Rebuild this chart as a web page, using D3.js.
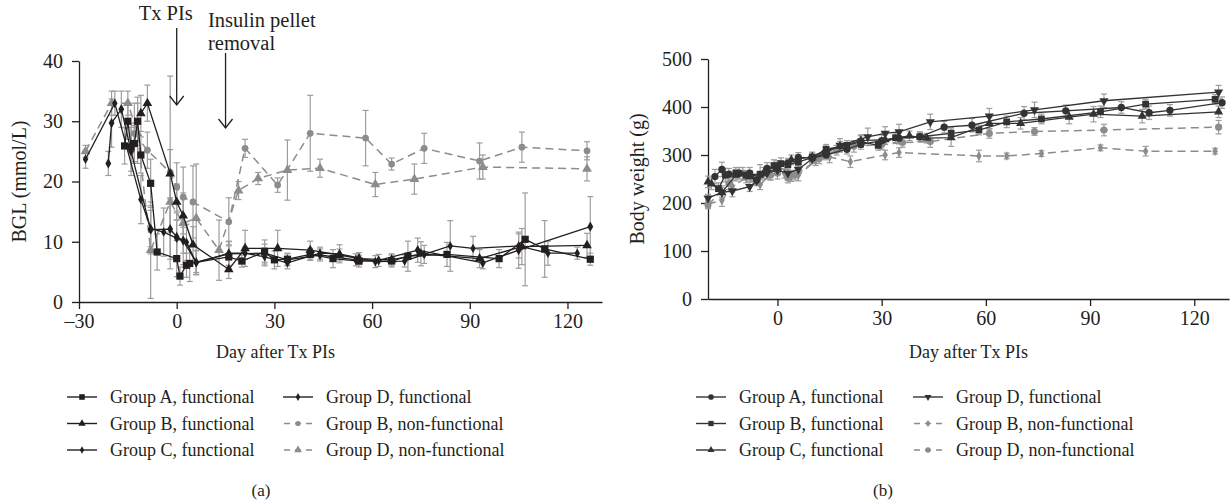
<!DOCTYPE html>
<html><head><meta charset="utf-8">
<script src="https://cdn.jsdelivr.net/npm/d3@7/dist/d3.min.js"></script>
<style>
body{margin:0;background:#fff}
svg{display:block}
text{font-family:"Liberation Serif","DejaVu Serif",serif;fill:#231f20}
</style>
</head><body>
<svg id="c" width="1230" height="502"></svg>
<script>
// ---------- Panel (a): BGL ----------
const aXTicks = [-30, 0, 30, 60, 90, 120];
const aYTicks = [0, 10, 20, 30, 40];

const aA_fn_days = [-16,-15,-14,-13,-12,-11,-8,-6,0,1,3,4,16,20,27,30,34,41,48,56,66,71,83,99,107,113,127];
const aA_fn_vals = [25.9,30,25.7,26.3,30,24.4,19.7,8.3,7.2,4.3,6.1,6.4,7.5,6.8,8.3,7.0,7.1,7.9,7.2,6.8,6.8,7.6,7.9,7.2,10.4,8.8,7.1];
const aA_fn_errs = [3,3,4,3,4,3,4,3,3,1.5,2,3,2,1,2,1.5,1,1,1.5,1,1,2.5,2,1.5,7.7,4.7,1];

const aB_fn_days = [-11,-9,-2,0,2,5,16,21,31,41,50,56,66,75,93,106,126];
const aB_fn_vals = [31.3,33,21.3,16.6,14.3,9.5,5.4,8.9,8.9,8.6,7.8,7.2,7.0,8.0,7.2,9.2,9.4];
const aB_fn_errs = [3,3,4,3,3,3,1.5,3,3,1.5,1,1,1,2,1.5,3,2];

const aC_fn_days = [-28,-19,-11,-8,-4,0,3,6,16,21,27,34,44,50,61,70,76,84,91,105,114,123];
const aC_fn_vals = [23.7,33,17,12.2,11.6,10.6,9.9,6.5,8.1,8.1,7.5,6.5,8.1,8.0,6.7,6.8,7.9,9.3,8.9,9.3,8.1,8.1];
const aC_fn_errs = [1.5,2,4,3,4,3,3,2,2,1,1.5,1,1,1.5,1,1,1.5,4.2,2,2,2,1];

const aD_fn_days = [-21,-20,-17,-14,-8,-2,0,2,6,16,27,34,44,55,62,74,94,105,127];
const aD_fn_vals = [23,29.7,32,25,12,12.1,10.8,10.2,6.6,8,8.1,7,7.8,7.0,6.9,8.6,6.5,8.6,12.5];
const aD_fn_errs = [2,4,3,4,4,5,4,4,2,2,1.5,1,1,1,1,2,1,3,5];

const aB_nf_days = [-13,-9,-2,0,2,5,16,21,31,41,58,66,76,93,106,126];
const aB_nf_vals = [28,25.2,21.5,19.1,17.4,16.6,13.3,25.5,19.4,28,27.2,22.9,25.5,23.4,25.7,25.1];
const aB_nf_errs = [5,3,16,4,5,6,4,1.5,1.2,6.3,4.6,1,2.5,3,2.5,1.5];

const aD_nf_days = [-28,-20,-15,-12,-8,-2,2,6,13,19,25,34,44,61,73,94,126];
const aD_nf_vals = [25,33,33,28,8.6,16.6,13.1,13.9,8.6,18.5,20.5,21.9,22.2,19.5,20.4,22.4,22.1];
const aD_nf_errs = [1,2,2,5,8,5,5,9,5,1.5,1,5,1.5,2,2.5,2,2];

const aLabels = ["Group A, functional","Group B, functional","Group C, functional","Group D, functional","Group B, non-functional","Group D, non-functional"];
const annotDays = [0, 15];

// ---------- Panel (b): Body weight ----------
const bXTicks = [0, 30, 60, 90, 120];
const bYTicks = [0, 100, 200, 300, 400, 500];

const bA_fn_days = [-18,-16,-14,-11,-8,-6,-3,0,3,6,10,14,20,24,30,35,41,48,56,71,83,99,107,113,128];
const bA_fn_vals = [255,270,260,262,262,248,272,276,283,295,294,300,312,322,330,335,338,358,362,387,392,399,388,393,409];
const bA_fn_errs = [15,15,12,12,12,10,12,12,10,10,10,10,10,10,12,12,10,12,14,14,12,12,14,12,12];

const bB_fn_days = [-17,-15,-12,-9,-5,-1,1,3,6,10,14,20,24,29,34,41,50,58,66,76,93,106,126];
const bB_fn_vals = [230,258,262,258,260,278,282,280,285,295,312,320,328,320,336,338,345,352,369,375,390,406,416];
const bB_fn_errs = [12,14,12,10,20,12,12,10,10,8,10,10,12,10,10,10,12,10,12,10,12,10,10];

const bC_fn_days = [-20,-19,-16,-12,-8,-4,0,4,10,14,18,24,31,38,43,50,61,70,84,91,105,127];
const bC_fn_vals = [244,240,222,258,255,262,272,290,296,308,318,330,332,340,335,336,366,366,379,385,381,390];
const bC_fn_errs = [12,12,14,12,12,12,12,10,10,10,10,12,10,10,10,18,12,12,14,16,14,12];

const bD_fn_days = [-20,-16,-13,-8,-6,-3,0,3,6,10,14,18,26,31,35,44,61,74,94,127];
const bD_fn_vals = [210,222,225,234,246,262,268,262,270,292,305,320,338,345,348,369,381,394,413,431];
const bD_fn_errs = [8,10,12,10,10,12,10,12,10,10,12,14,18,14,16,16,16,16,14,14];

const bB_nf_days = [-20,-16,-13,-9,-5,-2,2,4,6,11,15,21,31,35,58,66,76,93,106,126];
const bB_nf_vals = [198,205,235,252,238,260,262,255,258,288,296,286,300,305,298,298,303,315,308,308];
const bB_nf_errs = [8,12,12,10,10,12,10,10,12,10,12,12,10,10,12,6,6,6,10,6];

const bD_nf_days = [-20,-14,-10,-6,-2,0,3,5,12,17,22,30,36,44,61,74,94,127];
const bD_nf_vals = [196,240,262,250,258,262,252,258,292,310,318,322,326,328,345,349,352,358];
const bD_nf_errs = [8,12,12,10,10,12,10,10,10,10,12,10,10,12,10,8,12,14];

const bLabels = ["Group A, functional","Group B, functional","Group C, functional","Group D, functional","Group B, non-functional","Group D, non-functional"];

// ---------- drawing ----------
const svg = d3.select("#c");
const BLACK = "#231f20", DARK = "#333333", GRAY = "#8c8c8c", ERR = "#9d9d9d";
const fmt = d => d < 0 ? "\u2013" + Math.abs(d) : String(d);

function zip(days, vals, errs){ return days.map((d,i)=>({d, v: vals[i], e: errs[i]})); }

function symbolPath(type, size){
  const map = {square: d3.symbolSquare, triangle: d3.symbolTriangle, down: d3.symbolTriangle,
               diamond: d3.symbolDiamond, circle: d3.symbolCircle};
  return d3.symbol().type(map[type]).size(size)();
}

function drawPanel(cfg){
  const g = svg.append("g");
  const x = d3.scaleLinear().domain(cfg.xDomain).range(cfg.xRange);
  const y = d3.scaleLinear().domain(cfg.yDomain).range(cfg.yRange);

  // axes
  const xa = g.append("g").attr("transform", `translate(0,${cfg.yRange[0]})`)
    .call(d3.axisBottom(x).tickValues(cfg.xTicks).tickFormat(fmt).tickSize(7).tickSizeOuter(0).tickPadding(5));
  const ya = g.append("g").attr("transform", `translate(${cfg.xRange[0]},0)`)
    .call(d3.axisLeft(y).tickValues(cfg.yTicks).tickSize(7).tickSizeOuter(0).tickPadding(9));
  [xa, ya].forEach(a => {
    a.selectAll("path,line").attr("stroke", BLACK).attr("stroke-width", 1.3);
    a.selectAll("text").style("font-size", "20px").attr("fill", BLACK);
  });

  // axis titles
  g.append("text").attr("x", (cfg.xRange[0]+cfg.xRange[1])/2 + cfg.xTitleDx).attr("y", 358)
    .attr("text-anchor","middle").style("font-size","18px").text("Day after Tx PIs");
  g.append("text").attr("transform", `translate(${cfg.yTitleX},${(cfg.yRange[0]+cfg.yRange[1])/2}) rotate(-90)`)
    .attr("text-anchor","middle").style("font-size","20px").text(cfg.yTitle);

  const series = cfg.series;
  // error bars first
  series.forEach(s => {
    const eg = g.append("g").attr("stroke", ERR).attr("stroke-width", 1.2).attr("fill","none");
    s.data.forEach(p => {
      const top = y(p.v + p.e), bot = y(Math.max(cfg.yDomain[0], p.v - p.e)), cx = x(p.d);
      eg.append("line").attr("x1",cx).attr("x2",cx).attr("y1",top).attr("y2",bot);
      eg.append("line").attr("x1",cx-3).attr("x2",cx+3).attr("y1",top).attr("y2",top);
      if (p.v - p.e > cfg.yDomain[0]) eg.append("line").attr("x1",cx-3).attr("x2",cx+3).attr("y1",bot).attr("y2",bot);
    });
  });
  // lines + markers
  series.forEach(s => {
    const line = d3.line().x(p=>x(p.d)).y(p=>y(p.v));
    g.append("path").datum(s.data).attr("d", line).attr("fill","none")
      .attr("stroke", s.color).attr("stroke-width", s.dash ? 1.5 : 1.3)
      .attr("stroke-dasharray", s.dash ? "8,5" : null);
    g.append("g").selectAll("path").data(s.data).join("path")
      .attr("d", symbolPath(s.sym, s.size))
      .attr("transform", p => `translate(${x(p.d)},${y(p.v)})` + (s.sym==="down" ? " rotate(180)" : ""))
      .attr("fill", s.color);
  });

  // legend
  series.forEach((s, i) => {
    const col = s.legendCol, row = s.legendRow;
    const lx = cfg.legendX[col], ly = 397 + row*26.5;
    g.append("line").attr("x1", lx).attr("x2", lx+30).attr("y1", ly).attr("y2", ly)
      .attr("stroke", s.color).attr("stroke-width", 1.4).attr("stroke-dasharray", s.dash ? "6,5" : null)
      .attr("stroke-dashoffset", s.dash ? -1 : 0);
    g.append("path").attr("d", symbolPath(s.sym, s.size*0.6))
      .attr("transform", `translate(${lx+15},${ly})` + (s.sym==="down" ? " rotate(180)" : ""))
      .attr("fill", s.color);
    g.append("text").attr("x", lx+43).attr("y", ly+6).style("font-size","18px").text(s.label);
  });

  g.append("text").attr("x", cfg.panelLabelX).attr("y", 496).attr("text-anchor","middle")
    .style("font-size","17px").text(cfg.panelLabel);
  return {x, y, g};
}

const pa = drawPanel({
  xDomain: [-30, 130.6], xRange: [79, 602], yDomain: [0, 40], yRange: [302, 61],
  xTicks: aXTicks, yTicks: aYTicks, yTitle: "BGL (mmol/L)", yTitleX: 26, xTitleDx: -65,
  legendX: [67, 283], panelLabel: "(a)", panelLabelX: 261,
  series: [
    {label: aLabels[4], data: zip(aB_nf_days,aB_nf_vals,aB_nf_errs), color: GRAY, dash: true, sym:"circle", size: 36, legendCol:1, legendRow:1},
    {label: aLabels[5], data: zip(aD_nf_days,aD_nf_vals,aD_nf_errs), color: GRAY, dash: true, sym:"triangle", size: 42, legendCol:1, legendRow:2},
    {label: aLabels[0], data: zip(aA_fn_days,aA_fn_vals,aA_fn_errs), color: BLACK, dash: false, sym:"square", size: 52, legendCol:0, legendRow:0},
    {label: aLabels[1], data: zip(aB_fn_days,aB_fn_vals,aB_fn_errs), color: BLACK, dash: false, sym:"triangle", size: 40, legendCol:0, legendRow:1},
    {label: aLabels[2], data: zip(aC_fn_days,aC_fn_vals,aC_fn_errs), color: BLACK, dash: false, sym:"diamond", size: 26, legendCol:0, legendRow:2},
    {label: aLabels[3], data: zip(aD_fn_days,aD_fn_vals,aD_fn_errs), color: BLACK, dash: false, sym:"diamond", size: 30, legendCol:1, legendRow:0}
  ]
});

// annotations panel (a)
(function(){
  const g = pa.g, x = pa.x;
  const arrows = [{d: annotDays[0], y1: 28, y2: 105}, {d: annotDays[1], y1: 53, y2: 128}];
  arrows.forEach(a => {
    const cx = x(a.d);
    g.append("line").attr("x1",cx).attr("x2",cx).attr("y1",a.y1).attr("y2",a.y2).attr("stroke",BLACK).attr("stroke-width",1.3);
    g.append("path").attr("d", `M${cx-7},${a.y2-9}L${cx},${a.y2}L${cx+7},${a.y2-9}`).attr("fill","none").attr("stroke",BLACK).attr("stroke-width",1.3);
  });
  g.append("text").attr("x", x(annotDays[0]) - 11).attr("y", 20).attr("text-anchor","middle").style("font-size","20.5px").text("Tx PIs");
  g.append("text").attr("x", 208).attr("y", 27).style("font-size","20.5px").text("Insulin pellet");
  g.append("text").attr("x", 208).attr("y", 50).style("font-size","20.5px").text("removal");
})();

drawPanel({
  xDomain: [-20, 130], xRange: [708, 1229], yDomain: [0, 500], yRange: [299, 59],
  xTicks: bXTicks, yTicks: bYTicks, yTitle: "Body weight (g)", yTitleX: 644, xTitleDx: 0,
  legendX: [696, 913], panelLabel: "(b)", panelLabelX: 883,
  series: [
    {label: bLabels[4], data: zip(bB_nf_days,bB_nf_vals,bB_nf_errs), color: GRAY, dash: true, sym:"diamond", size: 26, legendCol:1, legendRow:1},
    {label: bLabels[5], data: zip(bD_nf_days,bD_nf_vals,bD_nf_errs), color: GRAY, dash: true, sym:"circle", size: 40, legendCol:1, legendRow:2},
    {label: bLabels[0], data: zip(bA_fn_days,bA_fn_vals,bA_fn_errs), color: DARK, dash: false, sym:"circle", size: 42, legendCol:0, legendRow:0},
    {label: bLabels[1], data: zip(bB_fn_days,bB_fn_vals,bB_fn_errs), color: DARK, dash: false, sym:"square", size: 46, legendCol:0, legendRow:1},
    {label: bLabels[2], data: zip(bC_fn_days,bC_fn_vals,bC_fn_errs), color: DARK, dash: false, sym:"triangle", size: 36, legendCol:0, legendRow:2},
    {label: bLabels[3], data: zip(bD_fn_days,bD_fn_vals,bD_fn_errs), color: DARK, dash: false, sym:"down", size: 36, legendCol:1, legendRow:0}
  ]
});
</script>
</body></html>
